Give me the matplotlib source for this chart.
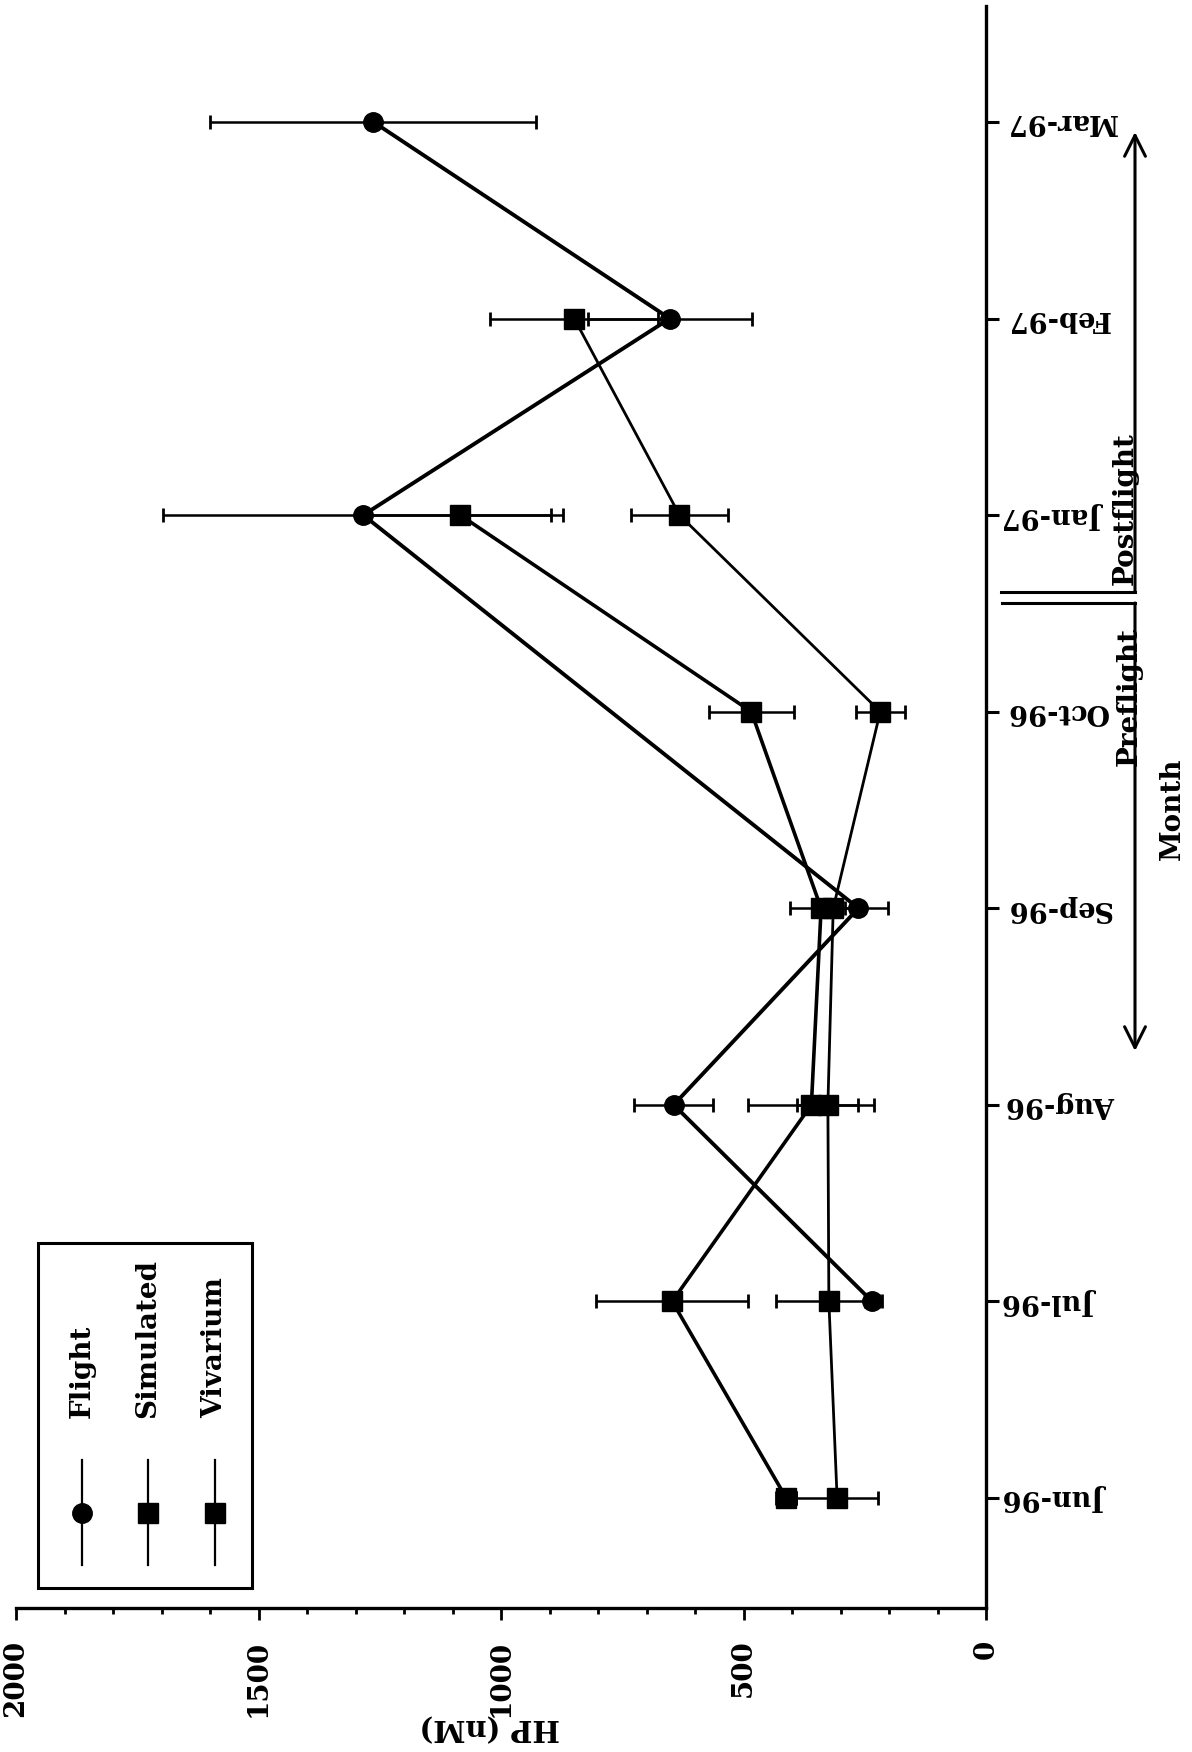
import matplotlib
import matplotlib.pyplot as plt
import numpy as np
from matplotlib.lines import Line2D
from matplotlib.patches import FancyArrowPatch, Rectangle
from matplotlib.ticker import MultipleLocator

matplotlib.use("Agg")

W, H = 1192, 1752

months = ["Jun-96", "Jul-96", "Aug-96", "Sep-96", "Oct-96", "Jan-97", "Feb-97", "Mar-97"]

flight_hp = [np.nan, 235, 644, 263, np.nan, 1284, 652, 1263]
flight_err = [np.nan, 15, 82, 60, np.nan, 412, 169, 336]

simulated_hp = [412, 647, 360, 340, 484, 1084, np.nan, np.nan]
simulated_err = [20, 157, 130, 64, 88, 187, np.nan, np.nan]

vivarium_hp = [307, 324, 326, 315, 218, 632, 849, np.nan]
vivarium_err = [84, 109, 63, 25, 51, 100, 173, np.nan]

plt.rcParams.update(
    {
        "font.family": "DejaVu Serif",
        "font.weight": "bold",
        "axes.labelweight": "bold",
        "font.size": 20,
    }
)


def fx(x):
    return x / W


def fy(y):
    return 1 - y / H


def draw_series(ax, hp, err, marker, lw):
    pos = np.arange(len(months))
    hp = np.asarray(hp, dtype=float)
    err = np.asarray(err, dtype=float)
    ok = ~np.isnan(hp)
    ax.errorbar(
        hp[ok], pos[ok], xerr=err[ok], fmt="-" + marker, color="black",
        lw=lw, ms=14, elinewidth=1.8, capsize=5, capthick=2.0, zorder=3,
    )


def main():
    fig = plt.figure(figsize=(W / 100, H / 100), dpi=100)
    ax = fig.add_axes([fx(16), fy(1608), fx(986) - fx(16), fy(6) - fy(1608)])

    draw_series(ax, flight_hp, flight_err, "o", 2.8)
    draw_series(ax, simulated_hp, simulated_err, "s", 2.6)
    draw_series(ax, vivarium_hp, vivarium_err, "s", 2.0)

    ax.set_xlim(2000, 0)
    ax.set_ylim(-0.56, 7.59)
    for side in ("left", "top"):
        ax.spines[side].set_visible(False)
    for side in ("right", "bottom"):
        ax.spines[side].set_linewidth(2.4)

    ax.xaxis.set_major_locator(MultipleLocator(500))
    ax.xaxis.set_minor_locator(MultipleLocator(100))
    ax.tick_params(axis="x", which="major", direction="out", length=8.6, width=2.0,
                   pad=14, labelsize=20, labelrotation=90)
    ax.tick_params(axis="x", which="minor", direction="out", length=4.5, width=2.0)

    ax.yaxis.tick_right()
    ax.set_yticks(np.arange(len(months)))
    ax.set_yticklabels(months)
    ax.tick_params(axis="y", direction="out", length=9.5, width=2.2, pad=5,
                   labelsize=19.5, labelrotation=180)
    for lbl in ax.get_yticklabels():
        lbl.set_va("center")

    ax.set_xlabel("HP (nM)", fontsize=21, fontweight="bold", rotation=180)
    ax.xaxis.set_label_coords(0.488, -0.0743)
    ax.xaxis.label.set_va("center")

    fig.text(fx(1172), fy(809), "Month", rotation=90, ha="center", va="center", fontsize=20)

    # legend, drawn by hand because its text is turned on its side
    fig.add_artist(Rectangle((fx(38), fy(1588)), fx(252) - fx(38), fy(1243) - fy(1588),
                             transform=fig.transFigure, fill=False, lw=2.2, ec="black"))
    for x, label, marker in [(82, "Flight", "o"), (148, "Simulated", "s"), (215, "Vivarium", "s")]:
        fig.add_artist(Line2D([fx(x), fx(x)], [fy(1460), fy(1565)], transform=fig.transFigure,
                              color="black", lw=1.6))
        fig.add_artist(Line2D([fx(x)], [fy(1513)], transform=fig.transFigure, color="black",
                              marker=marker, ms=14, lw=0))
        fig.text(fx(x), fy(1418), label, rotation=90, ha="center", va="bottom", fontsize=20)

    # preflight / postflight arrows
    fig.add_artist(Line2D([fx(1001), fx(1135)], [fy(592), fy(592)], transform=fig.transFigure,
                          color="black", lw=2.2))
    fig.add_artist(Line2D([fx(1002), fx(1135)], [fy(603), fy(603)], transform=fig.transFigure,
                          color="black", lw=2.2))
    for y0, y1 in [(592, 132), (603, 1051)]:
        fig.add_artist(FancyArrowPatch((fx(1135), fy(y0)), (fx(1135), fy(y1)),
                                       transform=fig.transFigure, arrowstyle="->,head_length=0.5,head_width=0.25",
                                       mutation_scale=30, lw=2.2, color="black", shrinkA=0, shrinkB=0))
    fig.text(fx(1125), fy(585), "Postflight", rotation=90, ha="center", va="bottom", fontsize=20)
    fig.text(fx(1129), fy(627), "Preflight", rotation=90, ha="center", va="top", fontsize=20)

    fig.savefig("out.png", dpi=100, facecolor="white")
    plt.close(fig)


if __name__ == "__main__":
    main()
